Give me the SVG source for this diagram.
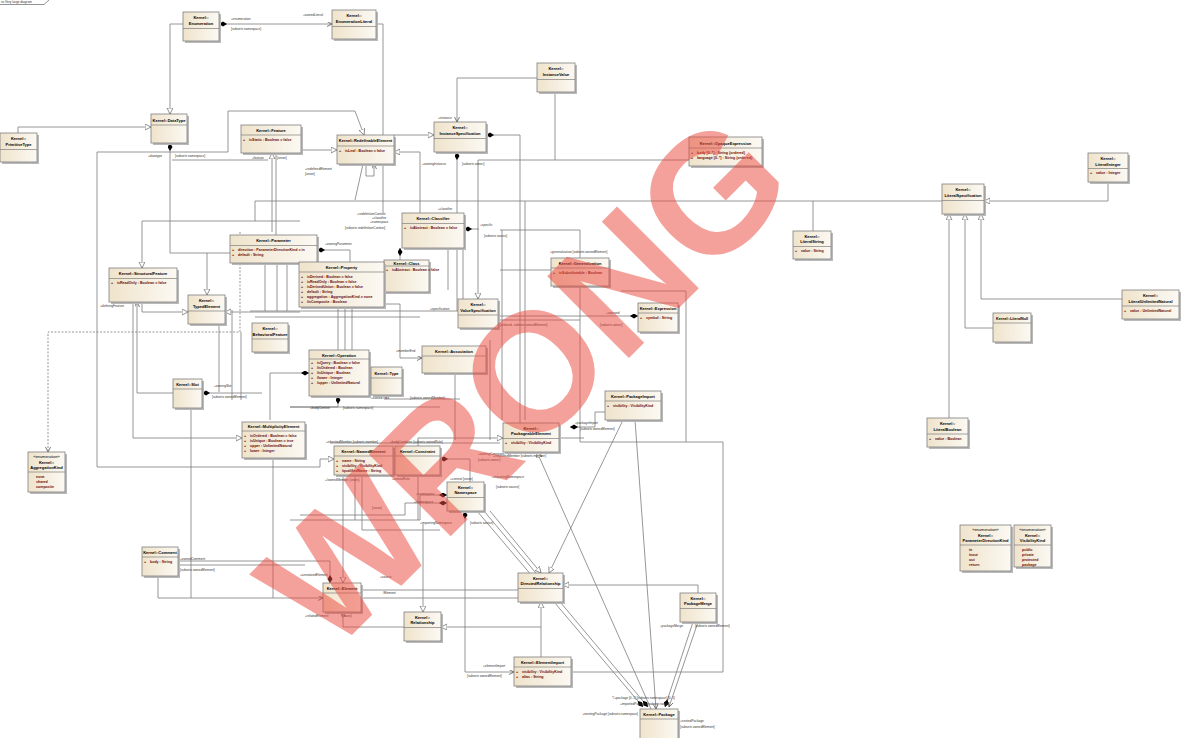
<svg xmlns="http://www.w3.org/2000/svg" width="1182" height="738" viewBox="0 0 1182 738">
<style>
.c{fill:none;stroke:#7c7c7c;stroke-width:0.8}
.d{stroke-dasharray:2,1.5}
.sh{fill:#b9b9b9}
.bx{fill:url(#g);stroke:#7f7f7f;stroke-width:0.8}
.sep{stroke:#7f7f7f;stroke-width:0.7}
.t{font-family:"Liberation Sans",Arial,sans-serif;font-size:4px;font-weight:bold;fill:#000;text-anchor:middle}
.a{font-family:"Liberation Sans",Arial,sans-serif;font-size:3.6px;font-weight:bold;fill:#6b0a0a}
.l{font-family:"Liberation Sans",Arial,sans-serif;font-size:3.2px;fill:#333}
.wm{font-family:"Liberation Sans",Arial,sans-serif;font-weight:bold;font-size:168px;fill:#ec4b3f;fill-opacity:.52;text-anchor:middle}
</style>
<defs>
<linearGradient id="g" x1="0" y1="0" x2="1" y2="0"><stop offset="0" stop-color="#efe3cb"/><stop offset="1" stop-color="#fcf9f3"/></linearGradient>
<marker id="gen" markerUnits="userSpaceOnUse" markerWidth="8" markerHeight="8" refX="6" refY="3" orient="auto-start-reverse"><path d="M0,0 L6,3 L0,6 z" fill="#fff" stroke="#666" stroke-width="0.7"/></marker>
<marker id="dia" markerUnits="userSpaceOnUse" markerWidth="9" markerHeight="6" refX="8" refY="2.5" orient="auto-start-reverse"><path d="M0,2.5 L4,0 L8,2.5 L4,5 z" fill="#000"/></marker>
<marker id="arr" markerUnits="userSpaceOnUse" markerWidth="6" markerHeight="6" refX="5" refY="2.5" orient="auto-start-reverse"><path d="M0,0 L5,2.5 L0,5" fill="none" stroke="#444" stroke-width="0.7"/></marker>
</defs>
<rect width="1182" height="738" fill="#fff"/>
<g id="frame"><path d="M0,4.5 H44 L49,0" fill="none" stroke="#666" stroke-width="0.7"/><text class="l" x="1" y="3.2">ss Very large diagram</text></g>

<g id="connectors">
<path class="c" d="M183,24 H170 V114" marker-end="url(#gen)"/>
<path class="c" d="M219,24 H332" marker-start="url(#dia)" marker-end="url(#arr)"/>
<path class="c" d="M376,24 H383 V135"/>
<path class="c" d="M394,135 H434" marker-end="url(#gen)"/>
<path class="c" d="M18,133 V127 H151" marker-end="url(#gen)"/>
<path class="c" d="M170,143 V253 H262" marker-start="url(#dia)"/>
<path class="c" d="M207,253 V295" marker-end="url(#gen)"/>
<path class="c" d="M97,152 H228 V111 H355 L364,135" marker-end="url(#gen)"/>
<path class="c" d="M97,152 V467 H320 V459 H334" marker-end="url(#gen)"/>
<path class="c" d="M300,150 H337" marker-end="url(#gen)"/>
<path class="c" d="M172,160 H268"/>
<path class="c" d="M272,232 V153" marker-end="url(#gen)"/>
<path class="c" d="M276,240 V153"/>
<path class="c" d="M142,268 V221 H300" marker-start="url(#gen)"/>
<path class="c" d="M142,302 V312 H188" marker-end="url(#gen)"/>
<path class="c" d="M133,302 V438 H242" marker-end="url(#gen)"/>
<path class="c" d="M137,302 V393 H173" marker-start="url(#arr)"/>
<path class="c d" d="M240,232 V332 H48 V452" marker-end="url(#arr)"/>
<path class="c" d="M225,312 H300" marker-start="url(#gen)"/>
<path class="c" d="M219,324 V392"/>
<path class="c" d="M232,310 V400"/>
<path class="c" d="M241,332 V400"/>
<path class="c" d="M202,393 H262" marker-start="url(#dia)"/>
<path class="c" d="M191,408 V598"/>
<path class="c" d="M273,458 V598"/>
<path class="c" d="M158,576 V598 H323" marker-end="url(#arr)"/>
<path class="c" d="M178,561 H330 V583" marker-end="url(#dia)"/>
<path class="c" d="M178,565 H305"/>
<path class="c" d="M355,200 L363,164"/>
<path class="c" d="M366,164 V176 H374 V164" marker-end="url(#arr)"/>
<path class="c" d="M383,164 V213"/>
<path class="c" d="M420,213 V152 H394" marker-end="url(#gen)"/>
<path class="c" d="M457,152 V311" marker-start="url(#dia)"/>
<path class="c" d="M486,135 H520 V440" marker-start="url(#dia)"/>
<path class="c" d="M537,78 H457 V122" marker-end="url(#arr)"/>
<path class="c" d="M555,92 V160"/>
<path class="c" d="M689,160 H478 V299" marker-end="url(#gen)"/>
<path class="c" d="M942,201 H255 V221"/>
<path class="c" d="M813,231 V201"/>
<path class="c" d="M1108,182 V201 H984" marker-end="url(#gen)"/>
<path class="c" d="M949,418 V214" marker-end="url(#gen)"/>
<path class="c" d="M993,328 H965 V214" marker-end="url(#gen)"/>
<path class="c" d="M1122,299 H981 V214" marker-end="url(#gen)"/>
<path class="c" d="M464,229 H479" marker-start="url(#dia)"/>
<path class="c" d="M400,248 V262" marker-start="url(#dia)"/>
<path class="c" d="M448,248 V290"/>
<path class="c" d="M463,248 V300"/>
<path class="c" d="M250,311 H458"/>
<path class="c" d="M255,317 H420"/>
<path class="c" d="M265,263 V311"/>
<path class="c" d="M277,263 V311"/>
<path class="c" d="M287,263 V311"/>
<path class="c" d="M338,307 V350"/>
<path class="c" d="M345,307 V350"/>
<path class="c" d="M352,307 V350"/>
<path class="c" d="M317,250 H350 V262" marker-start="url(#dia)"/>
<path class="c" d="M309,373 H270 V420" marker-start="url(#dia)"/>
<path class="c" d="M338,396 V407 H290" marker-start="url(#dia)"/>
<path class="c" d="M384,304 H400 V358 H422" marker-end="url(#arr)"/>
<path class="c" d="M455,373 V440"/>
<path class="c" d="M490,340 V440"/>
<path class="c" d="M386,395 V399 H460"/>
<path class="c" d="M500,230 H580 V258"/>
<path class="c" d="M502,230 V420"/>
<path class="c" d="M525,201 V420"/>
<path class="c" d="M500,270 H551"/>
<path class="c" d="M478,316 H638" marker-end="url(#dia)"/>
<path class="c" d="M500,320 H580"/>
<path class="c" d="M621,291 H686 V442"/>
<path class="c" d="M580,286 V442 H723 V672 H571"/>
<path class="c" d="M465,511 V672 H514" marker-start="url(#dia)" marker-end="url(#arr)"/>
<path class="c" d="M623,420 L549,573" marker-end="url(#gen)"/>
<path class="c" d="M490,511 L541,573" marker-end="url(#gen)"/>
<path class="c" d="M651,709 L537,452" marker-end="url(#gen)"/>
<path class="c" d="M635,420 L656,709" marker-end="url(#arr)"/>
<path class="c" d="M477,511 L643,707" marker-end="url(#dia)"/>
<path class="c" d="M484,511 L648,707" marker-end="url(#dia)"/>
<path class="c" d="M693,622 L665,707" marker-end="url(#dia)"/>
<path class="c" d="M698,622 L669,707" marker-end="url(#arr)"/>
<path class="c" d="M698,593 V585 H563" marker-end="url(#gen)"/>
<path class="c" d="M541,657 V602" marker-end="url(#gen)"/>
<path class="c" d="M541,627 H441" marker-end="url(#gen)"/>
<path class="c" d="M343,612 V627 H404" marker-start="url(#arr)"/>
<path class="c" d="M423,524 V612" marker-end="url(#gen)"/>
<path class="c" d="M343,475 V583" marker-end="url(#gen)"/>
<path class="c" d="M361,590 H518"/>
<path class="c" d="M361,598 H518"/>
<path class="c" d="M440,459 H470 V482" marker-start="url(#dia)"/>
<path class="c" d="M447,495 H420 V520 H290" marker-start="url(#dia)"/>
<path class="c" d="M447,503 H405 V515 H300" marker-start="url(#dia)"/>
<path class="c" d="M355,475 V520"/>
<path class="c" d="M362,475 V530 H440"/>
<path class="c" d="M418,475 V520"/>
<path class="c" d="M418,446 V438 H503" marker-end="url(#gen)"/>
<path class="c" d="M559,438 H584"/>
<path class="c" d="M605,412 H595 V427 H570" marker-end="url(#dia)"/>
<path class="c" d="M290,407 H440"/>
<path class="c" d="M330,443 H500"/>
<g id="labels">
<text class="l" x="231" y="20">+enumeration</text>
<text class="l" x="231" y="30">[subsets namespace]</text>
<text class="l" x="303" y="16">+ownedLiteral</text>
<text class="l" x="148" y="157">+datatype</text>
<text class="l" x="175" y="157">[subsets namespace]</text>
<text class="l" x="252" y="159">+feature</text>
<text class="l" x="277" y="159">[union]</text>
<text class="l" x="305" y="170">+redefinedElement</text>
<text class="l" x="305" y="175">[union]</text>
<text class="l" x="438" y="119">+instance</text>
<text class="l" x="437" y="131">+owningInstanceSpec</text>
<text class="l" x="452" y="142">[subsets owner]</text>
<text class="l" x="422" y="165">+owningInstance</text>
<text class="l" x="462" y="165">[subsets owner]</text>
<text class="l" x="438" y="210">+classifier</text>
<text class="l" x="357" y="215">+redefinitionContext</text>
<text class="l" x="372" y="219">+classifier</text>
<text class="l" x="370" y="223">+namespace</text>
<text class="l" x="345" y="229">[subsets redefinitionContext]</text>
<text class="l" x="480" y="226">+specific</text>
<text class="l" x="484" y="237">[subsets source]</text>
<text class="l" x="325" y="245">+owningParameter</text>
<text class="l" x="100" y="307">+definingFeature</text>
<text class="l" x="214" y="387">+owningSlot</text>
<text class="l" x="212" y="398">[subsets ownedElement]</text>
<text class="l" x="550" y="253">+generalization [subsets ownedElement]</text>
<text class="l" x="430" y="310">+specification</text>
<text class="l" x="606" y="314">+operand</text>
<text class="l" x="600" y="326">[subsets owner]</text>
<text class="l" x="500" y="326">[ordered, subsets ownedElement]</text>
<text class="l" x="396" y="352">+memberEnd</text>
<text class="l" x="371" y="399">+ownedType</text>
<text class="l" x="410" y="399">[subsets ownedMember]</text>
<text class="l" x="310" y="409">+bodyContext</text>
<text class="l" x="343" y="409">[subsets namespace]</text>
<text class="l" x="326" y="443">+inheritedMember [subsets member]</text>
<text class="l" x="390" y="443">+bodyCondition [subsets ownedRule]</text>
<text class="l" x="478" y="455">+owningConstraint</text>
<text class="l" x="478" y="461">[subsets owner]</text>
<text class="l" x="493" y="457">+/importedMember [subsets member]</text>
<text class="l" x="325" y="481">+/ownedMember {union}</text>
<text class="l" x="392" y="480">+ownedRule</text>
<text class="l" x="450" y="480">+context [union]</text>
<text class="l" x="492" y="478">+importingNamespace</text>
<text class="l" x="496" y="488">[subsets source]</text>
<text class="l" x="416" y="495">+namespace</text>
<text class="l" x="414" y="503">+/namespace</text>
<text class="l" x="372" y="509">[union]</text>
<text class="l" x="420" y="524">+importingNamespace</text>
<text class="l" x="470" y="524">[subsets source]</text>
<text class="l" x="575" y="424">+packageImport</text>
<text class="l" x="580" y="430">[subsets ownedElement]</text>
<text class="l" x="180" y="560">+ownedComment</text>
<text class="l" x="180" y="571">[subsets ownedElement]</text>
<text class="l" x="300" y="576">+annotatedElement</text>
<text class="l" x="380" y="578">+source</text>
<text class="l" x="383" y="594">/Element</text>
<text class="l" x="305" y="617">+relatedElement</text>
<text class="l" x="342" y="617">[union]</text>
<text class="l" x="483" y="667">+elementImport</text>
<text class="l" x="467" y="677">[subsets ownedElement]</text>
<text class="l" x="660" y="627">+packageMerge</text>
<text class="l" x="695" y="627">[subsets ownedElement]</text>
<text class="l" x="612" y="699">*/+package [0..1] [subsets namespace] [0..1]</text>
<text class="l" x="620" y="705">+importedPackage [subsets target]</text>
<text class="l" x="638" y="715" style="text-anchor:end">+nestingPackage [subsets namespace]</text>
<text class="l" x="680" y="722">+nestedPackage</text>
<text class="l" x="680" y="728">[subsets ownedElement]</text>
</g>
</g>

<g id="nodes">
<g id="n-enumeration"><rect class="sh" x="185" y="14" width="36" height="29"/><rect class="bx" x="183" y="12" width="36" height="29"/><text class="t" x="201" y="18.5">Kernel::</text><text class="t" x="201" y="24.5">Enumeration</text><line class="sep" x1="183" y1="28.5" x2="219" y2="28.5"/></g>
<g id="n-enumerationliteral"><rect class="sh" x="334" y="12" width="44" height="29"/><rect class="bx" x="332" y="10" width="44" height="29"/><text class="t" x="354" y="16.5">Kernel::</text><text class="t" x="354" y="22.5">EnumerationLiteral</text><line class="sep" x1="332" y1="26.5" x2="376" y2="26.5"/></g>
<g id="n-datatype"><rect class="sh" x="153" y="116" width="36" height="29"/><rect class="bx" x="151" y="114" width="36" height="29"/><text class="t" x="169" y="121.5">Kernel::DataType</text><line class="sep" x1="151" y1="125" x2="187" y2="125"/></g>
<g id="n-primitivetype"><rect class="sh" x="2" y="135" width="37" height="29"/><rect class="bx" x="0" y="133" width="37" height="29"/><text class="t" x="18.5" y="139.5">Kernel::</text><text class="t" x="18.5" y="145.5">PrimitiveType</text><line class="sep" x1="0" y1="149.5" x2="37" y2="149.5"/></g>
<g id="n-feature"><rect class="sh" x="243" y="127" width="60" height="28"/><rect class="bx" x="241" y="125" width="60" height="28"/><text class="t" x="271" y="132">Kernel::Feature</text><line class="sep" x1="241" y1="135" x2="301" y2="135"/><text class="a" x="243" y="140.5">+<tspan x="249">isStatic : Boolean = false</tspan></text></g>
<g id="n-redefinableelement"><rect class="sh" x="339" y="137" width="57" height="29"/><rect class="bx" x="337" y="135" width="57" height="29"/><text class="t" x="365.5" y="142">Kernel::RedefinableElement</text><line class="sep" x1="337" y1="146" x2="394" y2="146"/><text class="a" x="339" y="151.5">+<tspan x="345">isLeaf : Boolean = false</tspan></text></g>
<g id="n-instancespecification"><rect class="sh" x="436" y="124" width="52" height="30"/><rect class="bx" x="434" y="122" width="52" height="30"/><text class="t" x="460" y="129">Kernel::</text><text class="t" x="460" y="135">InstanceSpecification</text><line class="sep" x1="434" y1="138.5" x2="486" y2="138.5"/></g>
<g id="n-instancevalue"><rect class="sh" x="539" y="65" width="38" height="29"/><rect class="bx" x="537" y="63" width="38" height="29"/><text class="t" x="556" y="69.5">Kernel::</text><text class="t" x="556" y="75.5">InstanceValue</text><line class="sep" x1="537" y1="79.5" x2="575" y2="79.5"/></g>
<g id="n-opaqueexpression"><rect class="sh" x="691" y="139" width="73" height="29"/><rect class="bx" x="689" y="137" width="73" height="29"/><text class="t" x="725.5" y="144.5">Kernel::OpaqueExpression</text><line class="sep" x1="689" y1="148" x2="762" y2="148"/><text class="a" x="691" y="153.5">+<tspan x="697">body [0..*] : String {ordered}</tspan></text><text class="a" x="691" y="158.5">+<tspan x="697">language [0..*] : String {ordered}</tspan></text></g>
<g id="n-literalinteger"><rect class="sh" x="1090" y="155" width="40" height="29"/><rect class="bx" x="1088" y="153" width="40" height="29"/><text class="t" x="1108" y="159.5">Kernel::</text><text class="t" x="1108" y="165.5">LiteralInteger</text><line class="sep" x1="1088" y1="168.5" x2="1128" y2="168.5"/><text class="a" x="1090" y="174">+<tspan x="1096">value : Integer</tspan></text></g>
<g id="n-literalspecification"><rect class="sh" x="944" y="186" width="42" height="30"/><rect class="bx" x="942" y="184" width="42" height="30"/><text class="t" x="963" y="190.5">Kernel::</text><text class="t" x="963" y="196.5">LiteralSpecification</text><line class="sep" x1="942" y1="200.5" x2="984" y2="200.5"/></g>
<g id="n-literalstring"><rect class="sh" x="795" y="233" width="38" height="28"/><rect class="bx" x="793" y="231" width="38" height="28"/><text class="t" x="812" y="237.5">Kernel::</text><text class="t" x="812" y="243">LiteralString</text><line class="sep" x1="793" y1="246.5" x2="831" y2="246.5"/><text class="a" x="795" y="251.5">+<tspan x="801">value : String</tspan></text></g>
<g id="n-literalunlimitednatural"><rect class="sh" x="1124" y="292" width="57" height="29"/><rect class="bx" x="1122" y="290" width="57" height="29"/><text class="t" x="1150.5" y="296.5">Kernel::</text><text class="t" x="1150.5" y="302.5">LiteralUnlimitedNatural</text><line class="sep" x1="1122" y1="306" x2="1179" y2="306"/><text class="a" x="1124" y="311.5">+<tspan x="1130">value : UnlimitedNatural</tspan></text></g>
<g id="n-literalnull"><rect class="sh" x="995" y="315" width="38" height="29"/><rect class="bx" x="993" y="313" width="38" height="29"/><text class="t" x="1012" y="319.5" style="font-size:3.7px">Kernel::LiteralNull</text><line class="sep" x1="993" y1="323" x2="1031" y2="323"/></g>
<g id="n-literalboolean"><rect class="sh" x="929" y="420" width="41" height="29"/><rect class="bx" x="927" y="418" width="41" height="29"/><text class="t" x="947.5" y="424.5">Kernel::</text><text class="t" x="947.5" y="430.5">LiteralBoolean</text><line class="sep" x1="927" y1="434" x2="968" y2="434"/><text class="a" x="929" y="439.5">+<tspan x="935">value : Boolean</tspan></text></g>
<g id="n-parameterdirectionkind"><rect class="sh" x="962" y="527" width="51" height="46"/><rect class="bx" x="960" y="525" width="51" height="46"/><text class="t" x="985.5" y="531" style="font-weight:normal">«enumeration»</text><text class="t" x="985.5" y="536.5">Kernel::</text><text class="t" x="985.5" y="542">ParameterDirectionKind</text><line class="sep" x1="960" y1="545" x2="1011" y2="545"/><text class="a" x="969" y="550.5">in</text><text class="a" x="969" y="555.5">inout</text><text class="a" x="969" y="560.5">out</text><text class="a" x="969" y="565.5">return</text></g>
<g id="n-visibilitykind"><rect class="sh" x="1016" y="527" width="37" height="42"/><rect class="bx" x="1014" y="525" width="37" height="42"/><text class="t" x="1032.5" y="531" style="font-weight:normal">«enumeration»</text><text class="t" x="1032.5" y="536.5">Kernel::</text><text class="t" x="1032.5" y="542">VisibilityKind</text><line class="sep" x1="1014" y1="545" x2="1051" y2="545"/><text class="a" x="1022" y="550.5">public</text><text class="a" x="1022" y="555.5">private</text><text class="a" x="1022" y="560.5">protected</text><text class="a" x="1022" y="565.5">package</text></g>
<g id="n-aggregationkind"><rect class="sh" x="30" y="454" width="37" height="40"/><rect class="bx" x="28" y="452" width="37" height="40"/><text class="t" x="46.5" y="458" style="font-weight:normal">«enumeration»</text><text class="t" x="46.5" y="463.5">Kernel::</text><text class="t" x="46.5" y="469">AggregationKind</text><line class="sep" x1="28" y1="472" x2="65" y2="472"/><text class="a" x="36" y="477.5">none</text><text class="a" x="36" y="482.5">shared</text><text class="a" x="36" y="487.5">composite</text></g>
<g id="n-structuralfeature"><rect class="sh" x="111" y="270" width="68" height="34"/><rect class="bx" x="109" y="268" width="68" height="34"/><text class="t" x="143" y="275">Kernel::StructuralFeature</text><line class="sep" x1="109" y1="278.5" x2="177" y2="278.5"/><text class="a" x="111" y="284">+<tspan x="117">isReadOnly : Boolean = false</tspan></text></g>
<g id="n-typedelement"><rect class="sh" x="190" y="297" width="37" height="29"/><rect class="bx" x="188" y="295" width="37" height="29"/><text class="t" x="206.5" y="301.5">Kernel::</text><text class="t" x="206.5" y="307.5">TypedElement</text><line class="sep" x1="188" y1="311" x2="225" y2="311"/></g>
<g id="n-slot"><rect class="sh" x="175" y="381" width="29" height="29"/><rect class="bx" x="173" y="379" width="29" height="29"/><text class="t" x="187.5" y="386">Kernel::Slot</text><line class="sep" x1="173" y1="389" x2="202" y2="389"/></g>
<g id="n-multiplicityelement"><rect class="sh" x="244" y="424" width="63" height="36"/><rect class="bx" x="242" y="422" width="63" height="36"/><text class="t" x="273.5" y="428">Kernel::MultiplicityElement</text><line class="sep" x1="242" y1="431" x2="305" y2="431"/><text class="a" x="244" y="436.5">+<tspan x="250">isOrdered : Boolean = false</tspan></text><text class="a" x="244" y="441.5">+<tspan x="250">isUnique : Boolean = true</tspan></text><text class="a" x="244" y="446.5">+<tspan x="250">upper : UnlimitedNatural</tspan></text><text class="a" x="244" y="451.5">+<tspan x="250">lower : Integer</tspan></text></g>
<g id="n-behavioralfeature"><rect class="sh" x="254" y="325" width="36" height="29"/><rect class="bx" x="252" y="323" width="36" height="29"/><text class="t" x="270" y="329.5">Kernel::</text><text class="t" x="270" y="335.5">BehavioralFeature</text><line class="sep" x1="252" y1="339" x2="288" y2="339"/></g>
<g id="n-parameter"><rect class="sh" x="232" y="237" width="87" height="28"/><rect class="bx" x="230" y="235" width="87" height="28"/><text class="t" x="273.5" y="242">Kernel::Parameter</text><line class="sep" x1="230" y1="245.5" x2="317" y2="245.5"/><text class="a" x="232" y="250.5">+<tspan x="238">direction : ParameterDirectionKind = in</tspan></text><text class="a" x="232" y="256">+<tspan x="238">default : String</tspan></text></g>
<g id="n-class"><rect class="sh" x="386" y="262" width="45" height="32"/><rect class="bx" x="384" y="260" width="45" height="32"/><text class="t" x="406.5" y="264.5">Kernel::Class</text><line class="sep" x1="384" y1="266" x2="429" y2="266"/><text class="a" x="386" y="270.5">+<tspan x="392">isAbstract : Boolean = false</tspan></text></g>
<g id="n-property"><rect class="sh" x="301" y="264" width="85" height="45"/><rect class="bx" x="299" y="262" width="85" height="45"/><text class="t" x="341.5" y="268.5">Kernel::Property</text><line class="sep" x1="299" y1="272" x2="384" y2="272"/><text class="a" x="301" y="277.5">+<tspan x="307">isDerived : Boolean = false</tspan></text><text class="a" x="301" y="282.5">+<tspan x="307">isReadOnly : Boolean = false</tspan></text><text class="a" x="301" y="287.5">+<tspan x="307">isDerivedUnion : Boolean = false</tspan></text><text class="a" x="301" y="292.5">+<tspan x="307">default : String</tspan></text><text class="a" x="301" y="297.5">+<tspan x="307">aggregation : AggregationKind = none</tspan></text><text class="a" x="301" y="302.5">+<tspan x="307">/isComposite : Boolean</tspan></text></g>
<g id="n-classifier"><rect class="sh" x="404" y="215" width="62" height="35"/><rect class="bx" x="402" y="213" width="62" height="35"/><text class="t" x="433" y="220">Kernel::Classifier</text><line class="sep" x1="402" y1="223.5" x2="464" y2="223.5"/><text class="a" x="404" y="229">+<tspan x="410">isAbstract : Boolean = false</tspan></text></g>
<g id="n-operation"><rect class="sh" x="311" y="352" width="60" height="46"/><rect class="bx" x="309" y="350" width="60" height="46"/><text class="t" x="339" y="356.5">Kernel::Operation</text><line class="sep" x1="309" y1="359" x2="369" y2="359"/><text class="a" x="311" y="364">+<tspan x="317">isQuery : Boolean = false</tspan></text><text class="a" x="311" y="369">+<tspan x="317">/isOrdered : Boolean</tspan></text><text class="a" x="311" y="374">+<tspan x="317">/isUnique : Boolean</tspan></text><text class="a" x="311" y="379">+<tspan x="317">/lower : Integer</tspan></text><text class="a" x="311" y="384">+<tspan x="317">/upper : UnlimitedNatural</tspan></text></g>
<g id="n-type"><rect class="sh" x="373" y="369" width="31" height="28"/><rect class="bx" x="371" y="367" width="31" height="28"/><text class="t" x="386.5" y="374.5">Kernel::Type</text><line class="sep" x1="371" y1="378" x2="402" y2="378"/></g>
<g id="n-valuespecification"><rect class="sh" x="460" y="301" width="40" height="29"/><rect class="bx" x="458" y="299" width="40" height="29"/><text class="t" x="478" y="305.5">Kernel::</text><text class="t" x="478" y="311.5">ValueSpecification</text><line class="sep" x1="458" y1="315" x2="498" y2="315"/></g>
<g id="n-association"><rect class="sh" x="424" y="348" width="64" height="27"/><rect class="bx" x="422" y="346" width="64" height="27"/><text class="t" x="454" y="353">Kernel::Association</text><line class="sep" x1="422" y1="356" x2="486" y2="356"/></g>
<g id="n-generalization"><rect class="sh" x="553" y="260" width="58" height="28"/><rect class="bx" x="551" y="258" width="58" height="28"/><text class="t" x="580" y="264.5">Kernel::Generalization</text><line class="sep" x1="551" y1="268" x2="609" y2="268"/><text class="a" x="553" y="273.5">+<tspan x="559">isSubstitutable : Boolean</tspan></text></g>
<g id="n-expression"><rect class="sh" x="640" y="305" width="40" height="29"/><rect class="bx" x="638" y="303" width="40" height="29"/><text class="t" x="658" y="309.5">Kernel::Expression</text><line class="sep" x1="638" y1="313" x2="678" y2="313"/><text class="a" x="640" y="318.5">+<tspan x="646">symbol : String</tspan></text></g>
<g id="n-packageimport"><rect class="sh" x="607" y="393" width="56" height="29"/><rect class="bx" x="605" y="391" width="56" height="29"/><text class="t" x="633" y="397.5">Kernel::PackageImport</text><line class="sep" x1="605" y1="401" x2="661" y2="401"/><text class="a" x="607" y="406.5">+<tspan x="613">visibility : VisibilityKind</tspan></text></g>
<g id="n-packageableelement"><rect class="sh" x="505" y="425" width="56" height="29"/><rect class="bx" x="503" y="423" width="56" height="29"/><text class="t" x="531" y="429.5">Kernel::</text><text class="t" x="531" y="435">PackageableElement</text><line class="sep" x1="503" y1="438.5" x2="559" y2="438.5"/><text class="a" x="505" y="444">+<tspan x="511">visibility : VisibilityKind</tspan></text></g>
<g id="n-namedelement"><rect class="sh" x="336" y="448" width="59" height="29"/><rect class="bx" x="334" y="446" width="59" height="29"/><text class="t" x="363.5" y="452.5">Kernel::NamedElement</text><line class="sep" x1="334" y1="456" x2="393" y2="456"/><text class="a" x="336" y="461.5">+<tspan x="342">name : String</tspan></text><text class="a" x="336" y="466.5">+<tspan x="342">visibility : VisibilityKind</tspan></text><text class="a" x="336" y="471.5">+<tspan x="342">/qualifiedName : String</tspan></text></g>
<g id="n-constraint"><rect class="sh" x="397" y="448" width="45" height="29"/><rect class="bx" x="395" y="446" width="45" height="29"/><text class="t" x="417.5" y="452.5">Kernel::Constraint</text><line class="sep" x1="395" y1="456" x2="440" y2="456"/></g>
<g id="n-namespace"><rect class="sh" x="449" y="484" width="37" height="29"/><rect class="bx" x="447" y="482" width="37" height="29"/><text class="t" x="465.5" y="488.5">Kernel::</text><text class="t" x="465.5" y="494">Namespace</text><line class="sep" x1="447" y1="497.5" x2="484" y2="497.5"/></g>
<g id="n-element"><rect class="sh" x="325" y="585" width="38" height="29"/><rect class="bx" x="323" y="583" width="38" height="29"/><text class="t" x="342" y="589.5">Kernel::Element</text><line class="sep" x1="323" y1="593" x2="361" y2="593"/></g>
<g id="n-directedrelationship"><rect class="sh" x="520" y="575" width="45" height="29"/><rect class="bx" x="518" y="573" width="45" height="29"/><text class="t" x="540.5" y="579.5">Kernel::</text><text class="t" x="540.5" y="585">DirectedRelationship</text><line class="sep" x1="518" y1="588.5" x2="563" y2="588.5"/></g>
<g id="n-relationship"><rect class="sh" x="406" y="614" width="37" height="29"/><rect class="bx" x="404" y="612" width="37" height="29"/><text class="t" x="422.5" y="618.5">Kernel::</text><text class="t" x="422.5" y="624">Relationship</text><line class="sep" x1="404" y1="627.5" x2="441" y2="627.5"/></g>
<g id="n-comment"><rect class="sh" x="144" y="549" width="36" height="29"/><rect class="bx" x="142" y="547" width="36" height="29"/><text class="t" x="160" y="553.5">Kernel::Comment</text><line class="sep" x1="142" y1="557" x2="178" y2="557"/><text class="a" x="144" y="562.5">+<tspan x="150">body : String</tspan></text></g>
<g id="n-packagemerge"><rect class="sh" x="682" y="595" width="36" height="29"/><rect class="bx" x="680" y="593" width="36" height="29"/><text class="t" x="698" y="599.5">Kernel::</text><text class="t" x="698" y="605">PackageMerge</text><line class="sep" x1="680" y1="608.5" x2="716" y2="608.5"/></g>
<g id="n-elementimport"><rect class="sh" x="516" y="659" width="57" height="29"/><rect class="bx" x="514" y="657" width="57" height="29"/><text class="t" x="542.5" y="663.5">Kernel::ElementImport</text><line class="sep" x1="514" y1="667" x2="571" y2="667"/><text class="a" x="516" y="672.5">+<tspan x="522">visibility : VisibilityKind</tspan></text><text class="a" x="516" y="677.5">+<tspan x="522">alias : String</tspan></text></g>
<g id="n-package"><rect class="sh" x="642" y="711" width="38" height="30"/><rect class="bx" x="640" y="709" width="38" height="30"/><text class="t" x="659" y="715.5">Kernel::Package</text><line class="sep" x1="640" y1="719" x2="678" y2="719"/></g>
</g>

<g id="watermark"><text class="wm" transform="translate(565,422) rotate(-45)" x="0" y="0">WRONG</text></g>
</svg>
